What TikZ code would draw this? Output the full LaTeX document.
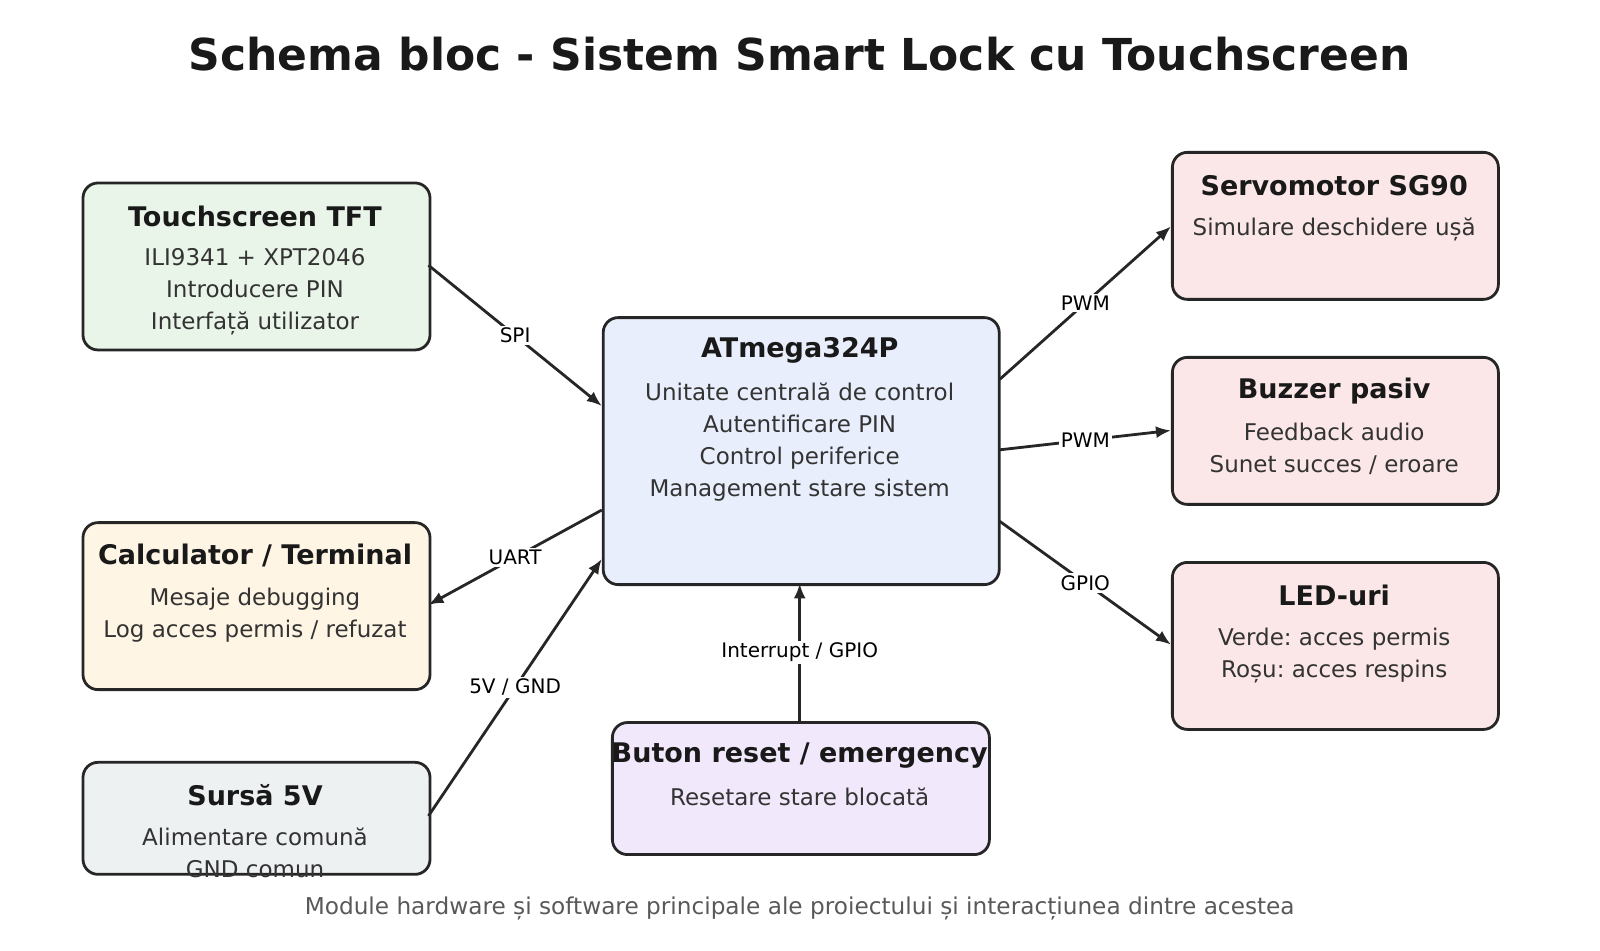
\documentclass[tikz,border=0pt]{standalone}
\usepackage{fontspec}
\setmainfont{DejaVu Sans}
\usetikzlibrary{arrows.meta}
\frenchspacing
\begin{document}
\begin{tikzpicture}[x=1.02pt,y=-1.02pt,
 box/.style={draw=black!85,line width=2.8pt,rounded corners=15pt,anchor=north west,inner sep=0pt},
 ttl/.style={font=\fontsize{27}{32}\selectfont\bfseries,text=black!90},
 body/.style={font=\fontsize{23}{32}\selectfont,text=black!80,align=center,anchor=north},
 arr/.style={draw=black!85,line width=2.8pt,-{Latex[length=15pt,width=12pt]}},
 lab/.style={fill=white,inner sep=2pt,font=\fontsize{20}{24}\selectfont}]
\useasboundingbox (0,0) rectangle (1568.6,931.4);
\definecolor{cg}{HTML}{EAF5EA}\definecolor{co}{HTML}{FFF5E5}\definecolor{cs}{HTML}{EEF1F2}
\definecolor{cb}{HTML}{E8EEFB}\definecolor{cp}{HTML}{F1E8FB}\definecolor{cr}{HTML}{FBE7E7}
\node[font=\fontsize{44}{50}\selectfont\bfseries,text=black!90] (title) at (784,53) {Schema bloc - Sistem Smart Lock cu Touchscreen};
\node[box,fill=cg,minimum width=347pt,minimum height=167pt] (ts) at (80,178) {};
\node[box,fill=co,minimum width=347pt,minimum height=167pt] (pc) at (80,511) {};
\node[box,fill=cs,minimum width=347pt,minimum height=112pt] (ps) at (80,746) {};
\node[box,fill=cb,minimum width=396pt,minimum height=267pt] (mcu) at (590,310) {};
\node[box,fill=cp,minimum width=377pt,minimum height=132pt] (bt) at (599,707) {};
\node[box,fill=cr,minimum width=326pt,minimum height=147pt] (sv) at (1148,148) {};
\node[box,fill=cr,minimum width=326pt,minimum height=147pt] (bz) at (1148,349) {};
\node[box,fill=cr,minimum width=326pt,minimum height=167pt] (led) at (1148,550) {};
\node[ttl] (t1) at (250,212) {Touchscreen TFT};
\node[body] (b1) at (250,240) {ILI9341 + XPT2046\\Introducere PIN\\Interfață utilizator};
\node[ttl] (t2) at (250,545) {Calculator / Terminal};
\node[body] (b2) at (250,573) {Mesaje debugging\\Log acces permis / refuzat};
\node[ttl] (t3) at (250,780) {Sursă 5V};
\node[body] (b3) at (250,808) {Alimentare comună\\GND comun};
\node[ttl] (t4) at (784,344) {ATmega324P};
\node[body] (b4) at (784,372) {Unitate centrală de control\\Autentificare PIN\\Control periferice\\Management stare sistem};
\node[ttl] (t5) at (784,741) {Buton reset / emergency};
\node[body] (b5) at (784,769) {Resetare stare blocată};
\node[ttl] (t6) at (1308,182) {Servomotor SG90};
\node[body] (b6) at (1308,210) {Simulare deschidere ușă};
\node[ttl] (t7) at (1308,383) {Buzzer pasiv};
\node[body] (b7) at (1308,411) {Feedback audio\\Sunet succes / eroare};
\node[ttl] (t8) at (1308,584) {LED-uri};
\node[body] (b8) at (1308,612) {Verde: acces permis\\Roșu: acces respins};
\node[font=\fontsize{23.2}{26}\selectfont,text=black!65] (cap) at (784,891) {Module hardware și software principale ale proiectului și interacțiunea dintre acestea};
\coordinate (a1) at (420,260); \coordinate (a2) at (590,398);
\coordinate (c1) at (980,372); \coordinate (c2) at (1148,222);
\coordinate (d1) at (980,441); \coordinate (d2) at (1148,422);
\coordinate (e1) at (980,511); \coordinate (e2) at (1148,632);
\coordinate (f1) at (590,500); \coordinate (f2) at (420,593);
\coordinate (g1) at (420,800); \coordinate (g2) at (590,548);
\coordinate (h1) at (784,707); \coordinate (h2) at (784,572);
\draw[arr] (a1) -- node[lab]{SPI} (a2);
\draw[arr] (c1) -- node[lab]{PWM} (c2);
\draw[arr] (d1) -- node[lab]{PWM} (d2);
\draw[arr] (e1) -- node[lab]{GPIO} (e2);
\draw[arr] (f1) -- node[lab]{UART} (f2);
\draw[arr] (g1) -- node[lab,pos=0.5]{5V / GND} (g2);
\draw[arr] (h1) -- node[lab]{Interrupt / GPIO} (h2);
\end{tikzpicture}
\end{document}
